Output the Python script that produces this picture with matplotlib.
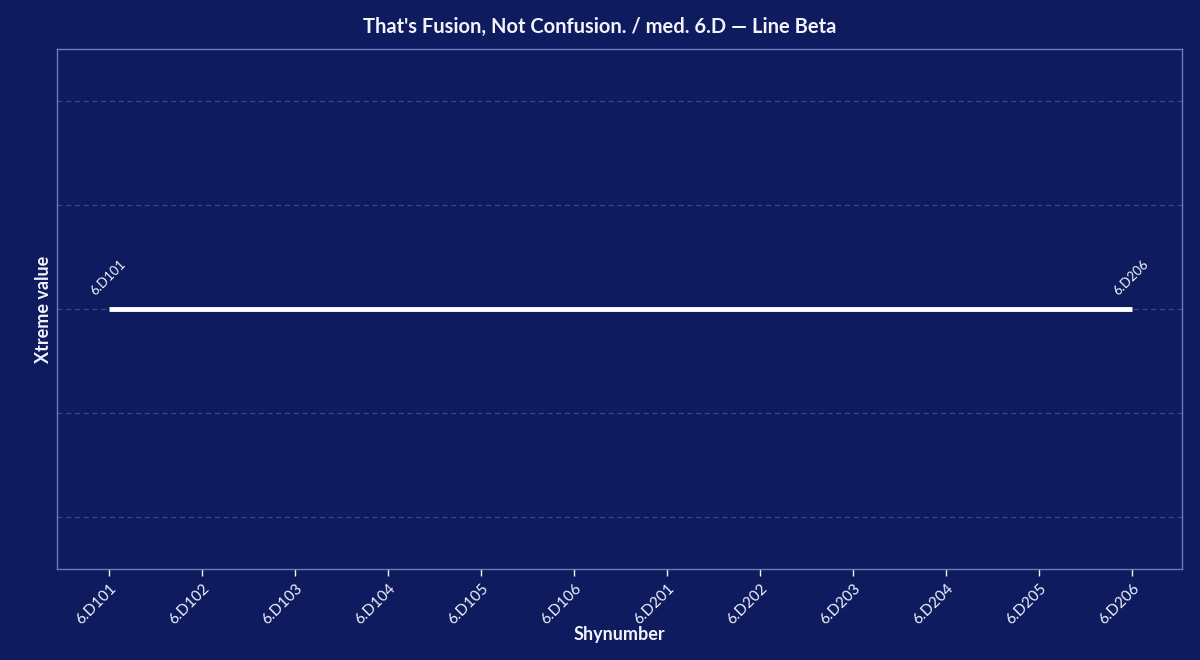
import matplotlib
matplotlib.use("Agg")
import matplotlib.pyplot as plt

categories = ["6.D101", "6.D102", "6.D103", "6.D104", "6.D105", "6.D106",
              "6.D201", "6.D202", "6.D203", "6.D204", "6.D205", "6.D206"]
values = [1, 1, 1, 1, 1, 1, 1, 1, 1, 1, 1, 1]
title = "That's Fusion, Not Confusion. / med. 6.D \u2014 Line Beta"

BG = "#0e1b5e"
FG = "#f2f3fb"
plt.rcParams['font.family'] = ['Lato', 'DejaVu Sans']

fig = plt.figure(figsize=(12, 6.6), dpi=100, facecolor=BG)
ax = fig.add_axes([57/1200, 1 - 569/660, (1182-57)/1200, (569-49)/660])
ax.set_facecolor(BG)

x = list(range(len(categories)))
ax.plot(x, values, color="white", linewidth=3.5, solid_capstyle="butt", zorder=3)

ax.set_xlim(-0.56, len(categories) - 1 + 0.54)
ax.set_ylim(values[0] - 2.5, values[0] + 2.5)
ax.set_yticks([values[0] + d for d in (-2, -1, 0, 1, 2)])
ax.set_yticklabels([])
ax.tick_params(axis="y", length=0)
ax.grid(axis="y", color="#3b4a8e", linestyle=(0, (4, 3)), linewidth=0.9)
ax.set_axisbelow(True)

ax.set_xticks(x)
ax.set_xticklabels(categories, rotation=45, ha="right", rotation_mode="anchor",
                   color=FG, fontsize=11)
ax.tick_params(axis="x", colors=FG, length=5, width=1, pad=4)
for lbl in ax.get_xticklabels():
    lbl.set_color(FG)

for s in ax.spines.values():
    s.set_color("#6f7ab8")
    s.set_linewidth(1)

for i in (0, len(categories) - 1):
    ax.annotate(categories[i], (x[i], values[i]), xytext=(-9, 8),
                textcoords="offset points", rotation=45, fontsize=9.5,
                color=FG, ha="left", va="bottom", rotation_mode="anchor")

ax.set_xlabel("Shynumber", color=FG, fontsize=13, fontweight="bold", labelpad=-1)
ax.set_ylabel("Xtreme value", color=FG, fontsize=13, fontweight="bold", labelpad=0)
fig.suptitle(title, color=FG, fontsize=14.5, fontweight="bold", y=1 - 27/660, va="center")

fig.savefig("out.png", dpi=100, facecolor=BG)
